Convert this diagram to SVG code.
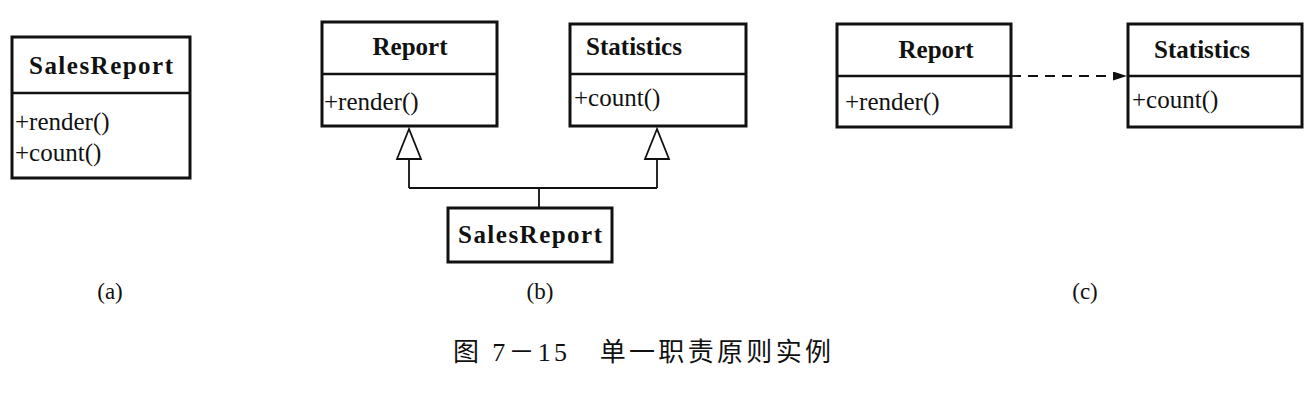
<svg xmlns="http://www.w3.org/2000/svg" width="1315" height="404" viewBox="0 0 1315 404">
<style>
.box{fill:#fff;stroke:#111;stroke-width:3}
.div{stroke:#111;stroke-width:2.5}
.t{font-family:"Liberation Serif",serif;font-size:25px;font-weight:bold;fill:#111;text-anchor:middle}
.m{font-family:"Liberation Serif",serif;font-size:25px;fill:#111}
.l{font-family:"Liberation Serif",serif;font-size:23px;fill:#111;text-anchor:middle}
.c{font-family:"Liberation Serif","Noto Sans CJK SC",serif;font-size:26px;fill:#111}
.ln{stroke:#111;stroke-width:1.8;fill:none}
</style>
<defs>
<marker id="ar" markerWidth="14" markerHeight="9" refX="14" refY="4.5" orient="auto" markerUnits="userSpaceOnUse">
<path d="M0,0 L14,4.5 L0,9 z" fill="#111"/>
</marker>
</defs>
<g id="a-salesreport">
<rect class="box" x="12" y="37" width="178" height="141"/>
<line class="div" x1="12" y1="93" x2="190" y2="93"/>
<text class="t" x="101" y="74" textLength="144">SalesReport</text>
<text class="m" x="15" y="130">+render()</text>
<text class="m" x="15" y="161">+count()</text>
</g>
<g id="b-report">
<rect class="box" x="322" y="22" width="175" height="104"/>
<line class="div" x1="322" y1="74" x2="497" y2="74"/>
<text class="t" x="410" y="55">Report</text>
<text class="m" x="324" y="110">+render()</text>
</g>
<g id="b-statistics">
<rect class="box" x="570" y="24" width="176" height="102"/>
<line class="div" x1="570" y1="74" x2="746" y2="74"/>
<text class="t" x="634" y="55">Statistics</text>
<text class="m" x="574" y="106">+count()</text>
</g>
<g id="b-salesreport">
<rect class="box" x="448" y="208" width="164" height="54"/>
<text class="t" x="530" y="243" textLength="144">SalesReport</text>
</g>
<g id="c-report">
<rect class="box" x="837" y="24" width="174" height="103"/>
<line class="div" x1="837" y1="76" x2="1011" y2="76"/>
<text class="t" x="936" y="58">Report</text>
<text class="m" x="845" y="110">+render()</text>
</g>
<g id="c-statistics">
<rect class="box" x="1128" y="24" width="174" height="103"/>
<line class="div" x1="1128" y1="76" x2="1302" y2="76"/>
<text class="t" x="1202" y="58">Statistics</text>
<text class="m" x="1132" y="108">+count()</text>
</g>
<g id="connectors">
<path class="ln" d="M539,208 V188 M409,188 H657 M409,188 V159 M657,188 V159"/>
<path d="M409,129 L397,159 L421,159 z" fill="#fff" stroke="#111" stroke-width="1.8"/>
<path d="M657,129 L645,159 L669,159 z" fill="#fff" stroke="#111" stroke-width="1.8"/>
<line class="ln" x1="1011" y1="76" x2="1127" y2="76" stroke-dasharray="10,7" marker-end="url(#ar)"/>
</g>
<text class="l" x="110" y="299">(a)</text>
<text class="l" x="540" y="299">(b)</text>
<text class="l" x="1085" y="299">(c)</text>
<text class="c" x="453" y="361" textLength="378">图 7－15　单一职责原则实例</text>
</svg>
